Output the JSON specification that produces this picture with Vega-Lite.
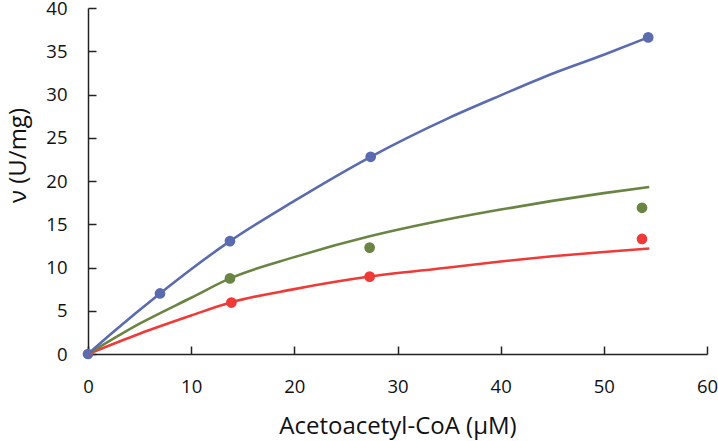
{
  "$schema": "https://vega.github.io/schema/vega-lite/v6.json",
  "width": 619,
  "height": 346,
  "autosize": {"type": "none"},
  "padding": {"left": 88, "top": 8, "right": 11, "bottom": 87},
  "background": "white",
  "config": {
    "view": {"stroke": null},
    "font": "Open Sans",
    "axis": {
      "grid": false,
      "domainColor": "#222222",
      "domainWidth": 1.5,
      "tickColor": "#222222",
      "tickWidth": 1.5,
      "tickSize": -8,
      "labelFlush": false,
      "labelOverlap": false,
      "labelFont": "Open Sans",
      "labelFontSize": 18.5,
      "labelColor": "#111111",
      "titleFont": "Open Sans",
      "titleFontSize": 24,
      "titleFontWeight": "normal",
      "titleColor": "#111111"
    }
  },
  "datasets": {
    "pts": [
      {"conc": 0, "v": 0, "series": "s1"},
      {"conc": 6.98, "v": 7.0, "series": "s1"},
      {"conc": 13.76, "v": 13.05, "series": "s1"},
      {"conc": 27.4, "v": 22.8, "series": "s1"},
      {"conc": 54.3, "v": 36.6, "series": "s1"},
      {"conc": 13.76, "v": 8.74, "series": "s2"},
      {"conc": 27.3, "v": 12.3, "series": "s2"},
      {"conc": 53.7, "v": 16.9, "series": "s2"},
      {"conc": 13.9, "v": 5.95, "series": "s3"},
      {"conc": 27.3, "v": 8.95, "series": "s3"},
      {"conc": 53.7, "v": 13.3, "series": "s3"}
    ],
    "curves": [
      {"conc": 0, "v": 0, "series": "s3"},
      {"conc": 5, "v": 2.35, "series": "s3"},
      {"conc": 10, "v": 4.45, "series": "s3"},
      {"conc": 13.8, "v": 5.95, "series": "s3"},
      {"conc": 20, "v": 7.5, "series": "s3"},
      {"conc": 27.3, "v": 8.95, "series": "s3"},
      {"conc": 35, "v": 10.0, "series": "s3"},
      {"conc": 40, "v": 10.7, "series": "s3"},
      {"conc": 45, "v": 11.3, "series": "s3"},
      {"conc": 50, "v": 11.8, "series": "s3"},
      {"conc": 54.4, "v": 12.2, "series": "s3"},
      {"conc": 0, "v": 0, "series": "s2"},
      {"conc": 5, "v": 3.5, "series": "s2"},
      {"conc": 10, "v": 6.5, "series": "s2"},
      {"conc": 13.76, "v": 8.74, "series": "s2"},
      {"conc": 20, "v": 11.2, "series": "s2"},
      {"conc": 27.3, "v": 13.6, "series": "s2"},
      {"conc": 35, "v": 15.6, "series": "s2"},
      {"conc": 40, "v": 16.7, "series": "s2"},
      {"conc": 45, "v": 17.7, "series": "s2"},
      {"conc": 50, "v": 18.6, "series": "s2"},
      {"conc": 54.4, "v": 19.3, "series": "s2"},
      {"conc": 0, "v": 0, "series": "s1"},
      {"conc": 2.5, "v": 2.6, "series": "s1"},
      {"conc": 6.98, "v": 7.0, "series": "s1"},
      {"conc": 10, "v": 9.8, "series": "s1"},
      {"conc": 13.76, "v": 13.05, "series": "s1"},
      {"conc": 20, "v": 17.7, "series": "s1"},
      {"conc": 27.4, "v": 22.8, "series": "s1"},
      {"conc": 35, "v": 27.3, "series": "s1"},
      {"conc": 40, "v": 29.9, "series": "s1"},
      {"conc": 45, "v": 32.4, "series": "s1"},
      {"conc": 50, "v": 34.6, "series": "s1"},
      {"conc": 54.3, "v": 36.6, "series": "s1"}
    ]
  },
  "encoding": {
    "x": {
      "field": "conc", "type": "quantitative",
      "scale": {"domain": [0, 60], "nice": false, "zero": false},
      "axis": {"values": [0, 10, 20, 30, 40, 50, 60], "title": "Acetoacetyl-CoA (μM)", "labelPadding": 31, "titlePadding": 19}
    },
    "y": {
      "field": "v", "type": "quantitative",
      "scale": {"domain": [0, 40], "nice": false, "zero": false},
      "axis": {"values": [0, 5, 10, 15, 20, 25, 30, 35, 40], "title": "ν (U/mg)", "labelPadding": 29, "titleX": -70, "titleY": 147, "titleAngle": -90, "titleAlign": "center", "titleBaseline": "middle"}
    },
    "color": {
      "field": "series", "type": "nominal",
      "scale": {"domain": ["s1", "s2", "s3"], "range": ["#5b6bb0", "#6a8443", "#f03a37"]},
      "legend": null
    }
  },
  "layer": [
    {
      "data": {"name": "pts"},
      "mark": {"type": "circle", "size": 115, "opacity": 1}
    },
    {
      "data": {"name": "curves"},
      "mark": {"type": "line", "strokeWidth": 2.6, "interpolate": "monotone"},
      "encoding": {"detail": {"field": "series"}}
    }
  ]
}
